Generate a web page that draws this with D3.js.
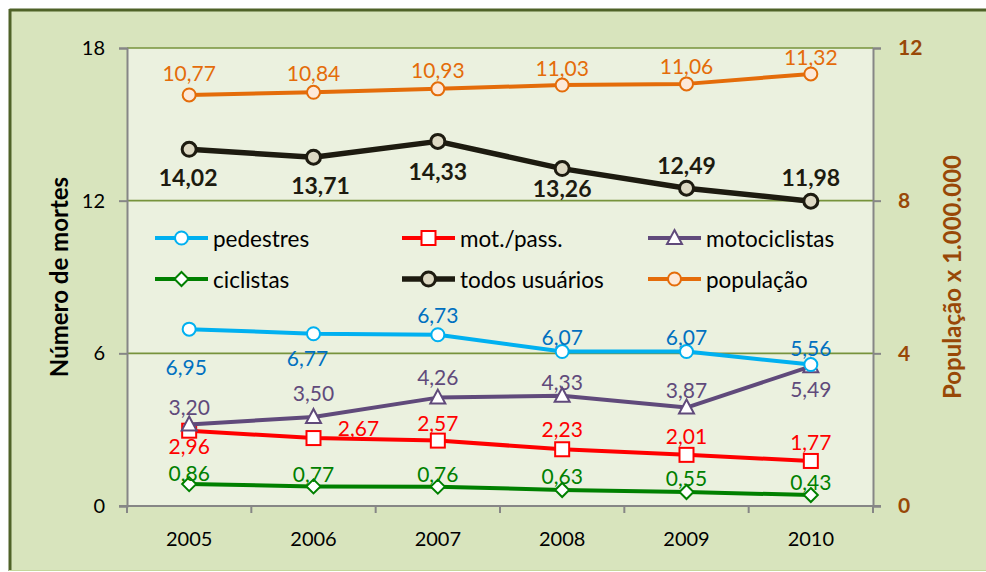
<!DOCTYPE html>
<html>
<head>
<meta charset="utf-8">
<script src="https://cdn.jsdelivr.net/npm/d3@7"></script>
<style>
  html, body { margin: 0; padding: 0; background: #ffffff; }
  svg { display: block; font-family: Lato, "Open Sans", sans-serif; }
</style>
</head>
<body>
<svg id="chart" width="986" height="572"></svg>
<script>
// Anos
const years = ["2005", "2006", "2007", "2008", "2009", "2010"];

// Mortes (eixo esquerdo)
const pedestres     = [6.95, 6.77, 6.73, 6.07, 6.07, 5.56];
const motPass       = [2.96, 2.67, 2.57, 2.23, 2.01, 1.77];
const motociclistas = [3.20, 3.50, 4.26, 4.33, 3.87, 5.49];
const ciclistas     = [0.86, 0.77, 0.76, 0.63, 0.55, 0.43];
const todosUsuarios = [14.02, 13.71, 14.33, 13.26, 12.49, 11.98];

// População x 1.000.000 (eixo direito)
const populacao     = [10.77, 10.84, 10.93, 11.03, 11.06, 11.32];

// Eixos
const leftTicks  = [0, 6, 12, 18];
const rightTicks = [0, 4, 8, 12];

const svg = d3.select("#chart");
const W = 986, H = 572;
const plot = { left: 127, right: 873, top: 48, bottom: 506 };

const fmt = v => d3.format(".2f")(v).replace(".", ",");

// Moldura externa
svg.append("rect").attr("x", 9).attr("y", 9).attr("width", W).attr("height", 561)
  .attr("fill", "#d8e4bd");
svg.append("line").attr("x1", 9.5).attr("x2", W).attr("y1", 10).attr("y2", 10)
  .attr("stroke", "#4f6228").attr("stroke-width", 3);
svg.append("line").attr("x1", 10).attr("x2", 10).attr("y1", 9).attr("y2", 571)
  .attr("stroke", "#4f6228").attr("stroke-width", 3);
svg.append("line").attr("x1", 9).attr("x2", W).attr("y1", 570.5).attr("y2", 570.5)
  .attr("stroke", "#c4d79b").attr("stroke-width", 1);

// Escalas
const x = d3.scaleBand().domain(years).range([plot.left, plot.right]);
const yL = d3.scaleLinear().domain([0, 18]).range([plot.bottom, plot.top]);
const yR = d3.scaleLinear().domain([0, 12]).range([plot.bottom, plot.top]);
const cx = d => x(d) + x.bandwidth() / 2;

// Área de plotagem
svg.append("rect")
  .attr("x", plot.left).attr("y", plot.top)
  .attr("width", plot.right - plot.left).attr("height", plot.bottom - plot.top)
  .attr("fill", "#ebf1df");

// Linhas de grade
svg.append("g").selectAll("line").data(leftTicks.filter(t => t > 0)).join("line")
  .attr("x1", plot.left).attr("x2", plot.right)
  .attr("y1", d => yL(d)).attr("y2", d => yL(d))
  .attr("stroke", "#77933c").attr("stroke-width", 1.6);

// Eixo esquerdo
const axL = svg.append("g").attr("transform", `translate(${plot.left},0)`)
  .call(d3.axisLeft(yL).tickValues(leftTicks).tickSize(8).tickPadding(14).tickFormat(d3.format("d")));
axL.select(".domain").attr("stroke", "#868686").attr("stroke-width", 2);
axL.selectAll(".tick line").attr("stroke", "#868686").attr("stroke-width", 2);
axL.selectAll(".tick text").attr("font-size", 20).attr("fill", "#000").attr("font-family", "Lato, sans-serif");

// Eixo direito
const axR = svg.append("g").attr("transform", `translate(${plot.right},0)`)
  .call(d3.axisRight(yR).tickValues(rightTicks).tickSize(8).tickPadding(17).tickFormat(d3.format("d")));
axR.select(".domain").attr("stroke", "#868686").attr("stroke-width", 2);
axR.selectAll(".tick line").attr("stroke", "#868686").attr("stroke-width", 2);
axR.selectAll(".tick text").attr("font-size", 21).attr("font-weight", "bold")
  .attr("fill", "#984807").attr("font-family", "Lato, sans-serif");

// Eixo das categorias (marcas nas divisas)
const axX = svg.append("g").attr("transform", `translate(0,${plot.bottom})`);
axX.append("line").attr("x1", plot.left - 8).attr("x2", plot.right + 8).attr("y1", 0).attr("y2", 0)
  .attr("stroke", "#868686").attr("stroke-width", 2);
const bounds = years.map(d => x(d)).concat([plot.right]);
axX.selectAll("line.tk").data(bounds).join("line").attr("class", "tk")
  .attr("x1", d => d).attr("x2", d => d).attr("y1", 0).attr("y2", 7)
  .attr("stroke", "#868686").attr("stroke-width", 2);
axX.selectAll("text").data(years).join("text")
  .attr("x", d => cx(d)).attr("y", 32).attr("text-anchor", "middle")
  .attr("dominant-baseline", "central")
  .attr("font-size", 20).attr("fill", "#000").text(d => d);

// Títulos dos eixos
svg.append("text")
  .attr("transform", "translate(58,277) rotate(-90)")
  .attr("text-anchor", "middle").attr("dominant-baseline", "central")
  .attr("font-size", 24).attr("font-weight", "bold").attr("fill", "#000")
  .text("Número de mortes");
svg.append("text")
  .attr("transform", "translate(951,277) rotate(-90)")
  .attr("text-anchor", "middle").attr("dominant-baseline", "central")
  .attr("font-size", 24).attr("font-weight", "bold").attr("fill", "#984807")
  .text("População x 1.000.000");

// Marcadores
const markers = {
  circle: (g, c) => g.append("circle").attr("r", c.r).attr("fill", c.fill)
    .attr("stroke", c.color).attr("stroke-width", c.mw),
  square: (g, c) => g.append("rect").attr("x", -7).attr("y", -7).attr("width", 14).attr("height", 14)
    .attr("fill", c.fill).attr("stroke", c.color).attr("stroke-width", c.mw),
  triangle: (g, c) => g.append("path").attr("d", "M0,-8L7.5,6L-7.5,6Z")
    .attr("fill", c.fill).attr("stroke", c.color).attr("stroke-width", c.mw),
  diamond: (g, c) => g.append("path").attr("d", "M0,-7L7,0L0,7L-7,0Z")
    .attr("fill", c.fill).attr("stroke", c.color).attr("stroke-width", c.mw)
};

// Séries; deslocamentos dos rótulos em pixels (dx, dy)
const series = [
  { name: "pedestres", values: pedestres, y: yL, color: "#00b0f0", fill: "#ffffff", labelColor: "#0070c0",
    marker: "circle", r: 6.5, lw: 4, mw: 2,
    dx: [-3, -6, 0, 0, 0, 0], dy: [37, 24, -20, -15, -15, -17] },
  { name: "mot./pass.", values: motPass, y: yL, color: "#ff0000", fill: "#ffffff", labelColor: "#ff0000",
    marker: "square", lw: 4, mw: 2,
    dx: [0, 45, 0, 0, 0, 0], dy: [15, -11, -18, -21, -19, -19] },
  { name: "motociclistas", values: motociclistas, y: yL, color: "#604a7b", fill: "#ffffff", labelColor: "#604a7b",
    marker: "triangle", lw: 4, mw: 2,
    dx: [0, 0, 0, 0, 0, 0], dy: [-18, -24, -21, -14, -18, 22] },
  { name: "ciclistas", values: ciclistas, y: yL, color: "#008000", fill: "#ffffff", labelColor: "#008000",
    marker: "diamond", lw: 4, mw: 2,
    dx: [0, 0, 0, 0, 0, 0], dy: [-12, -13, -13, -14, -15, -14] },
  { name: "todos usuários", values: todosUsuarios, y: yL, color: "#1d1b10", fill: "#ddd9c3", labelColor: "#1d1b10",
    marker: "circle", r: 7, lw: 5.5, mw: 3, bold: true,
    dx: [-1, 7, 0, 0, 0, 0], dy: [28, 28, 30, 19, -23, -24] },
  { name: "população", values: populacao, y: yR, color: "#e46c0a", fill: "#fde9d9", labelColor: "#e46c0a",
    marker: "circle", r: 6.5, lw: 4, mw: 2,
    dx: [0, 0, 0, 0, 0, 0], dy: [-22, -20, -19, -18, -18, -17] }
];

const drawOrder = [3, 1, 2, 0, 4, 5];
drawOrder.forEach(i => {
  const s = series[i];
  const pts = s.values.map((v, j) => [cx(years[j]), s.y(v)]);
  svg.append("path").attr("d", d3.line()(pts)).attr("fill", "none")
    .attr("stroke", s.color).attr("stroke-width", s.lw).attr("stroke-linejoin", "round");
  pts.forEach(p => {
    const g = svg.append("g").attr("transform", `translate(${p[0]},${p[1]})`);
    markers[s.marker](g, s);
  });
});

// Rótulos de dados
series.forEach(s => {
  svg.append("g").selectAll("text").data(s.values).join("text")
    .attr("x", (v, j) => cx(years[j]) + s.dx[j])
    .attr("y", (v, j) => s.y(v) + s.dy[j])
    .attr("text-anchor", "middle").attr("dominant-baseline", "central")
    .attr("font-size", s.bold ? 23 : 21).attr("font-weight", s.bold ? "bold" : "normal")
    .attr("fill", s.labelColor).text(v => fmt(v));
});

// Legenda
const legendPos = [
  [155, 238], [402, 238], [648, 238],
  [155, 279], [402, 279], [648, 279]
];
const legendOrder = [0, 1, 2, 3, 4, 5];
legendOrder.forEach((i, k) => {
  const s = series[i];
  const [lx, ly] = legendPos[k];
  const g = svg.append("g").attr("transform", `translate(${lx},${ly})`);
  g.append("line").attr("x1", 0).attr("x2", 53).attr("y1", 0).attr("y2", 0)
    .attr("stroke", s.color).attr("stroke-width", s.lw);
  markers[s.marker](g.append("g").attr("transform", "translate(26.5,0)"), s);
  g.append("text").attr("x", 58).attr("y", 0).attr("dominant-baseline", "central")
    .attr("font-size", 22.5).attr("fill", "#000").text(s.name);
});
</script>
</body>
</html>
